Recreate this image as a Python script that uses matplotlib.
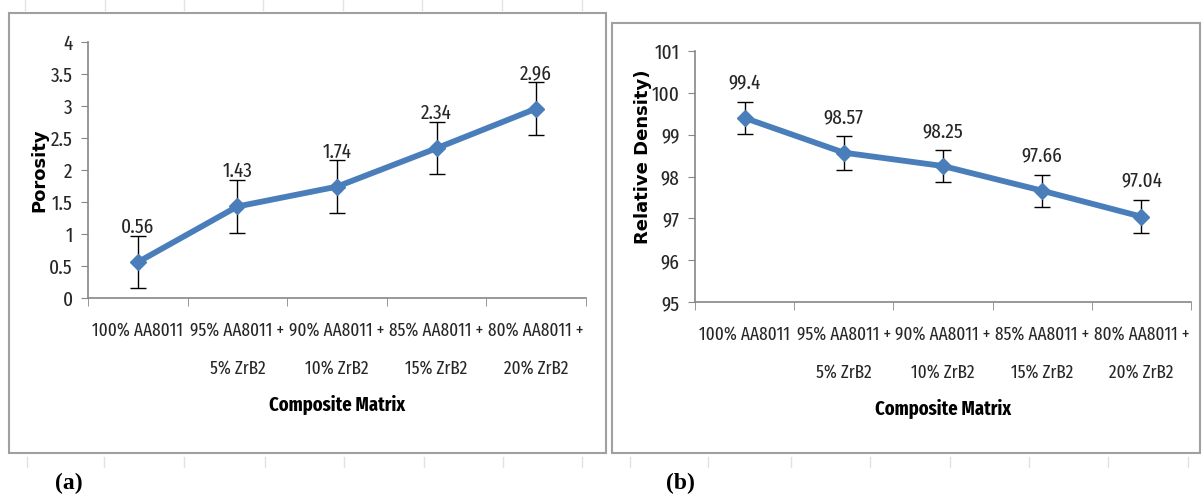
import matplotlib
matplotlib.use("Agg")
import matplotlib.pyplot as plt
from matplotlib.patches import Rectangle
from matplotlib.lines import Line2D

# data
categories = ["100% AA8011", "95% AA8011 +\n5% ZrB2", "90% AA8011 +\n10% ZrB2",
              "85% AA8011 +\n15% ZrB2", "80% AA8011 +\n20% ZrB2"]
porosity = [0.56, 1.43, 1.74, 2.34, 2.96]
porosity_err = [0.41, 0.41, 0.41, 0.41, 0.41]
density = [99.4, 98.57, 98.25, 97.66, 97.04]
density_err = [0.39, 0.41, 0.39, 0.38, 0.4]

# the scanned chart text is tall and narrow, a condensed face comes closest
excel_font = ["Fira Sans Extra Condensed", "Carlito", "DejaVu Sans"]
blue = "#4a7ebb"
axis_grey = "#868686"
text_col = "#262626"

fig = plt.figure(figsize=(12.04, 4.96), dpi=100)
W, H = 1204., 496.


def fx(px):
    return px / W


def fy(py):
    return 1 - py / H


# outer frames of the two chart objects
for x0, y0, x1, y1 in [(9, 13, 606, 453), (612, 23, 1200, 453)]:
    fig.patches.append(Rectangle((fx(x0), fy(y1)), fx(x1 - x0), (y1 - y0) / H,
                                 transform=fig.transFigure, fill=False,
                                 edgecolor="#a0a0a0", lw=1.5))

# faint page marks outside the frames
for xs, yy in [([27, 104, 184, 265, 344, 424, 503, 582], 462),
               ([630, 708, 791, 870, 950, 1029, 1108, 1188], 462),
               ([25, 105, 184, 263, 343, 422, 502, 582], 5)]:
    for x in xs:
        fig.lines.append(Line2D([fx(x), fx(x)], [fy(yy - 5), fy(yy + 5)],
                                transform=fig.transFigure, color="#e2e2e2", lw=1))


def panel(rect, values, errs, ylim, yticks, ylabel, ylabel_pos):
    ax = fig.add_axes(rect)
    x = list(range(len(values)))
    ax.errorbar(x, values, yerr=errs, fmt="none", ecolor="black", elinewidth=1,
                capsize=6, capthick=1, zorder=2)
    ax.plot(x, values, color=blue, lw=4.2, marker="D", markersize=8.5,
            markeredgecolor=blue, zorder=3)
    for xi, v in zip(x, values):
        ax.annotate(f"{v:g}", (xi, v), xytext=(0, 25), textcoords="offset points",
                    ha="center", va="center", fontsize=15, family=excel_font,
                    color=text_col)
    ax.set_xlim(-0.5, len(values) - 0.5)
    ax.set_ylim(*ylim)
    ax.set_yticks(yticks)
    ax.set_yticklabels([f"{t:g}" for t in yticks], fontsize=15,
                       family=excel_font, color=text_col)
    ax.set_xticks(x)
    ax.set_xticklabels(categories, fontsize=13.5, family=excel_font,
                       color=text_col, linespacing=2.4)
    ax.set_xticks([i - 0.5 for i in range(len(values) + 1)], minor=True)
    ax.tick_params(axis="x", which="major", length=0, pad=17)
    ax.tick_params(axis="x", which="minor", length=6, direction="out", color=axis_grey)
    ax.tick_params(axis="y", length=5, direction="out", color=axis_grey, pad=6)
    for s in ["top", "right"]:
        ax.spines[s].set_visible(False)
    for s in ["left", "bottom"]:
        ax.spines[s].set_color(axis_grey)
        ax.spines[s].set_linewidth(1.2)
    ax.set_xlabel("Composite Matrix", fontsize=14.5, fontweight="bold",
                  family=excel_font, labelpad=13)
    ax.set_ylabel(ylabel, fontsize=13, fontweight="bold", family="DejaVu Sans")
    ax.yaxis.set_label_coords(*ylabel_pos)
    ax.set_facecolor("none")
    return ax


panel([fx(88), fy(298), fx(586 - 88), (298 - 42) / H], porosity, porosity_err,
      (0, 4), [0, 0.5, 1, 1.5, 2, 2.5, 3, 3.5, 4], "Porosity", (-0.08, 0.5))

panel([fx(695), fy(302), fx(1191 - 695), (302 - 51) / H], density, density_err,
      (95, 101), [95, 96, 97, 98, 99, 100, 101], "Relative Density)", (-0.087, 0.58))

fig.text(fx(69), fy(483), "(a)", fontsize=17, fontweight="bold",
         family="Liberation Serif", ha="center", va="center")
fig.text(fx(680), fy(483), "(b)", fontsize=17, fontweight="bold",
         family="Liberation Serif", ha="center", va="center")

fig.savefig("out.png", dpi=100)
